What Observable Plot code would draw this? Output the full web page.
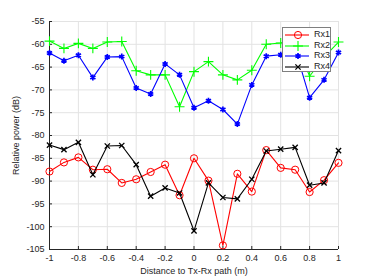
<!DOCTYPE html>
<html><head><meta charset="utf-8">
<script src="https://cdn.jsdelivr.net/npm/d3@7"></script>
<script src="https://cdn.jsdelivr.net/npm/@observablehq/plot@0.6"></script>
<style>
body{margin:0;background:#fff;font-family:"Liberation Sans",Arial,sans-serif;}
#wrap{position:relative;width:374px;height:280px;}
#legend{position:absolute;left:282px;top:27px;width:47px;height:43px;border:1px solid #7f7f7f;background:#fff;box-sizing:content-box;}
#legend .row{position:absolute;left:0;height:10px;width:47px;}
#legend svg{position:absolute;left:0;top:0;overflow:visible;}
#legend span{position:absolute;left:31px;top:-1px;font-size:9px;line-height:11px;color:#262626;}
</style></head><body><div id="wrap"></div>
<script>
const distances = [-1,-0.9,-0.8,-0.7,-0.6,-0.5,-0.4,-0.3,-0.2,-0.1,0,0.1,0.2,0.3,0.4,0.5,0.6,0.7,0.8,0.9,1];
const seriesNames = ["Rx1","Rx2","Rx3","Rx4"];
const rx1 = [-87.9,-85.9,-84.8,-87.5,-87.4,-90.4,-89.6,-88.0,-86.4,-93.1,-85.0,-89.9,-104.1,-88.4,-92.3,-83.2,-87.1,-87.5,-92.4,-89.8,-86.0];
const rx2 = [-59.3,-60.9,-59.8,-60.9,-59.5,-59.4,-65.8,-66.7,-66.7,-73.7,-66.0,-63.8,-66.7,-67.8,-65.7,-60.0,-59.7,-59.0,-67.0,-62.8,-59.5];
const rx3 = [-61.9,-63.6,-62.4,-67.3,-62.8,-62.7,-69.6,-70.9,-64.3,-66.7,-73.9,-72.4,-74.3,-77.5,-68.9,-62.6,-62.3,-61.0,-71.7,-67.8,-61.8];
const rx4 = [-82.1,-83.1,-81.5,-88.6,-82.3,-82.2,-86.4,-93.3,-91.5,-92.6,-100.9,-90.4,-93.6,-93.9,-89.6,-83.4,-83.0,-82.6,-90.9,-90.4,-83.3];
const seriesValues = [rx1, rx2, rx3, rx4];
const seriesColors = ["#ff0000","#00ff00","#0000ff","#000000"];
const seriesSymbols = ["circle","plus","asterisk","times"];
const seriesRadius = [3.6,3.3,2.8,2.5];
const seriesMarkerWidth = [1,1.1,1.7,1.3];
const xTicks = [-1,-0.8,-0.6,-0.4,-0.2,0,0.2,0.4,0.6,0.8,1];
const yTicks = [-105,-100,-95,-90,-85,-80,-75,-70,-65,-60,-55];
const xLabel = "Distance to Tx-Rx path (m)";
const yLabel = "Relative power (dB)";

const rows = seriesNames.flatMap((s, i) => distances.map((x, j) => ({series: s, x, y: seriesValues[i][j]})));
const fmt = d => String(d);
const axisColor = "#262626";

const seriesMarks = seriesNames.flatMap((s, i) => {
  const d = rows.filter(r => r.series === s);
  return [
    Plot.line(d, {x: "x", y: "y", stroke: seriesColors[i], strokeWidth: 1.1}),
    Plot.dot(d, {x: "x", y: "y", stroke: seriesColors[i], fill: "none", symbol: seriesSymbols[i], r: seriesRadius[i], strokeWidth: seriesMarkerWidth[i]})
  ];
});

const chart = Plot.plot({
  width: 374, height: 280,
  marginLeft: 49, marginRight: 36, marginTop: 21, marginBottom: 31,
  style: {fontFamily: '"Liberation Sans", Arial, sans-serif', fontSize: "9px", color: axisColor, background: "#fff"},
  x: {domain: [-1, 1]},
  y: {domain: [-105, -55]},
  marks: [
    Plot.gridX(xTicks, {stroke: "#e3e3e3", strokeOpacity: 1}),
    Plot.gridY(yTicks, {stroke: "#e3e3e3", strokeOpacity: 1}),
    Plot.axisX(xTicks, {tickSize: 3, dy: -3, fill: "none", stroke: axisColor, label: null}),
    Plot.axisY(yTicks, {tickSize: 3, dx: 3, fill: "none", stroke: axisColor, label: null}),
    Plot.axisX(xTicks, {tickSize: 0, tickPadding: 5, tickFormat: fmt, label: xLabel, labelAnchor: "center", labelArrow: false, labelOffset: 24, fill: axisColor, stroke: "none"}),
    Plot.axisY(yTicks, {tickSize: 0, tickPadding: 5, tickFormat: fmt, label: yLabel, labelAnchor: "center", labelArrow: false, labelOffset: 37, fill: axisColor, stroke: "none"}),
    Plot.ruleX([-1], {stroke: axisColor}),
    Plot.ruleY([-105], {stroke: axisColor}),
    ...seriesMarks
  ]
});
const wrap = document.getElementById("wrap");
wrap.appendChild(chart);

// legend
const legend = document.createElement("div");
legend.id = "legend";
const symMap = {circle: d3.symbolCircle, plus: d3.symbolPlus, asterisk: d3.symbolAsterisk, times: d3.symbolTimes};
seriesNames.forEach((s, i) => {
  const row = document.createElement("div");
  row.className = "row";
  row.style.top = (2 + i * 10.5) + "px";
  const ns = "http://www.w3.org/2000/svg";
  const svg = document.createElementNS(ns, "svg");
  svg.setAttribute("width", 30); svg.setAttribute("height", 10);
  const line = document.createElementNS(ns, "line");
  line.setAttribute("x1", 2); line.setAttribute("x2", 26); line.setAttribute("y1", 5); line.setAttribute("y2", 5);
  line.setAttribute("stroke", seriesColors[i]); line.setAttribute("stroke-width", 1.1);
  svg.appendChild(line);
  const p = document.createElementNS(ns, "path");
  const r = seriesRadius[i];
  p.setAttribute("d", d3.symbol(symMap[seriesSymbols[i]], r * r * Math.PI)());
  p.setAttribute("transform", "translate(15,5)");
  p.setAttribute("fill", "none"); p.setAttribute("stroke", seriesColors[i]); p.setAttribute("stroke-width", seriesMarkerWidth[i]);
  svg.appendChild(p);
  row.appendChild(svg);
  const t = document.createElement("span");
  t.textContent = s;
  row.appendChild(t);
  legend.appendChild(row);
});
wrap.appendChild(legend);
</script></body></html>
